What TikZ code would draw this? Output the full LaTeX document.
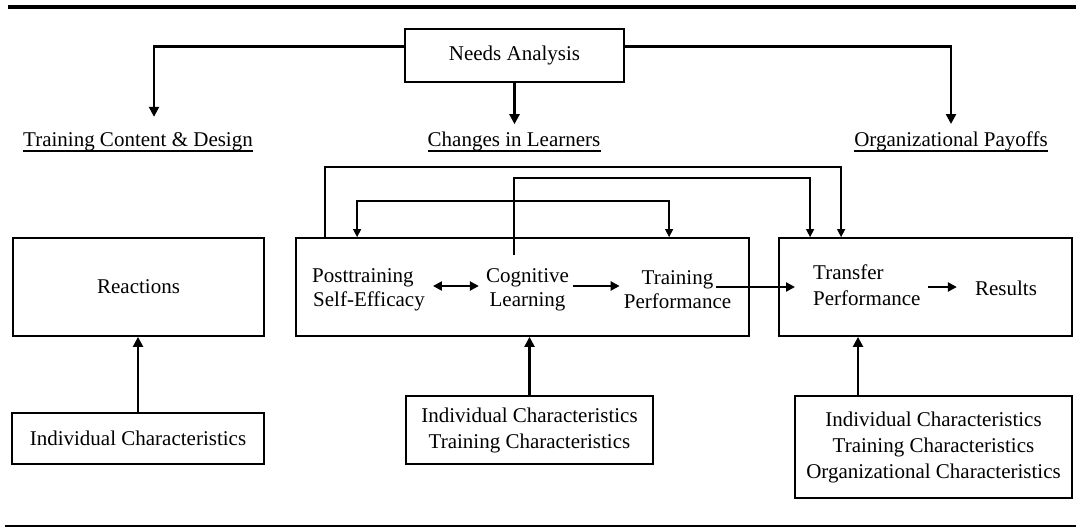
\documentclass[tikz,border=0pt]{standalone}
\usepackage{fontspec}
\setmainfont{Liberation Serif}
\usetikzlibrary{arrows.meta,calc}
\begin{document}
\begin{tikzpicture}[x=1pt,y=-1pt,
  box/.style={draw,line width=1.8pt,inner sep=0pt,font=\fontsize{21}{26}\selectfont,align=center},
  txt/.style={inner sep=0pt,font=\fontsize{21}{24}\selectfont},
  arr/.style={line width=2.3pt,-{Triangle[length=10pt,width=10pt]}},
  arrs/.style={line width=2.3pt,-{Triangle[length=9pt,width=9pt]}},
  dbl/.style={line width=2.3pt,{Triangle[length=9pt,width=9pt]}-{Triangle[length=9pt,width=9pt]}},
  loopln/.style={line width=1.4pt,-{Triangle[length=8pt,width=8pt]}},
  loopdbl/.style={line width=1.4pt,{Triangle[length=8pt,width=8pt]}-{Triangle[length=8pt,width=8pt]}},
  ul/.style={line width=2.5pt}]
\useasboundingbox (0,0) rectangle (1076,527);
% rules
\draw[line width=3.5pt] (8,7) -- (1076,7);
\draw[line width=2pt] (5,526) -- (1076,526);
% top
\node[box,minimum width=219pt,minimum height=53pt] (needs) at (514.5,55.5) {Needs Analysis};
\node[txt,anchor=base] (tcd) at (138,146) {Training Content \& Design};
\node[txt,anchor=base] (chl) at (514,146) {Changes in Learners};
\node[txt,anchor=base] (orgp) at (951,146) {Organizational Payoffs};
\draw[ul] ([yshift=-5pt]tcd.base west) -- ([yshift=-5pt]tcd.base east);
\draw[ul] ([yshift=-5pt]chl.base west) -- ([yshift=-5pt]chl.base east);
\draw[ul] ([yshift=-5pt]orgp.base west) -- ([yshift=-5pt]orgp.base east);
\draw[arr,shorten >=15pt] ([yshift=9pt]needs.west) -| ([xshift=16pt]tcd.north);
\draw[arr,shorten >=7pt] (needs.south) -- (needs.south |- chl.north);
\draw[arr,shorten >=7pt] ([yshift=9pt]needs.east) -| (orgp.north);
% main boxes
\node[box,minimum width=251pt,minimum height=98pt] (react) at (138.5,287) {Reactions};
\node[box,minimum width=453pt,minimum height=98pt] (mid) at (522.5,287) {};
\node[box,minimum width=293pt,minimum height=98pt] (tbox) at (925.5,287) {};
% inner texts
\node[txt,align=left,anchor=west] (pse) at (312,290) {Posttraining\\\hspace*{1pt}Self-Efficacy};
\node[txt,align=center] (cog) at (527.5,290) {Cognitive\\Learning};
\node[txt,align=center] (trp) at (677.5,290) {Training\\Performance};
\node[txt,align=left,anchor=west,font=\fontsize{21}{26}\selectfont] (tperf) at (813,285) {Transfer\\Performance};
\node[txt] (res) at (1006,288) {Results};
\draw[dbl,shorten <=8pt,shorten >=7pt] (pse.east |- 0,286) -- (cog.west |- 0,286);
\draw[arrs,shorten <=4pt,shorten >=4pt] (cog.east |- 0,286) -- (trp.west |- 0,286);
\draw[arrs,shorten <=-15pt,shorten >=18pt] (trp.east |- 0,287) -- (tperf.west |- 0,287);
\draw[arrs,shorten <=7pt,shorten >=18pt] (tperf.east |- 0,287) -- (res.west |- 0,287);
% feedback lines
\coordinate (c2) at (514,255);
\draw[loopln] ([xshift=30pt]mid.north west) -- ++(0,-70) -| ([xshift=63pt]tbox.north west);
\draw[loopln] (c2) -- ++(0,-77) -| ([xshift=32pt]tbox.north west);
\draw[loopdbl] ([xshift=62pt]mid.north west) -- ++(0,-36) -| ([xshift=374pt]mid.north west);
% bottom boxes
\node[box,minimum width=252pt,minimum height=51pt] (ind1) at (138,438.5) {Individual Characteristics};
\node[box,minimum width=247pt,minimum height=68pt] (ind2) at (529.5,430) {Individual Characteristics\\Training Characteristics};
\node[box,minimum width=277pt,minimum height=102pt] (ind3) at (933.5,447) {Individual Characteristics\\Training Characteristics\\Organizational Characteristics};
\draw[arr] (ind1.north) -- (ind1.north |- react.south);
\draw[arr] (ind2.north) -- (ind2.north |- mid.south);
\draw[arr] ([xshift=-75.5pt]ind3.north) -- ([xshift=-75.5pt]ind3.north |- tbox.south);
\end{tikzpicture}
\end{document}
